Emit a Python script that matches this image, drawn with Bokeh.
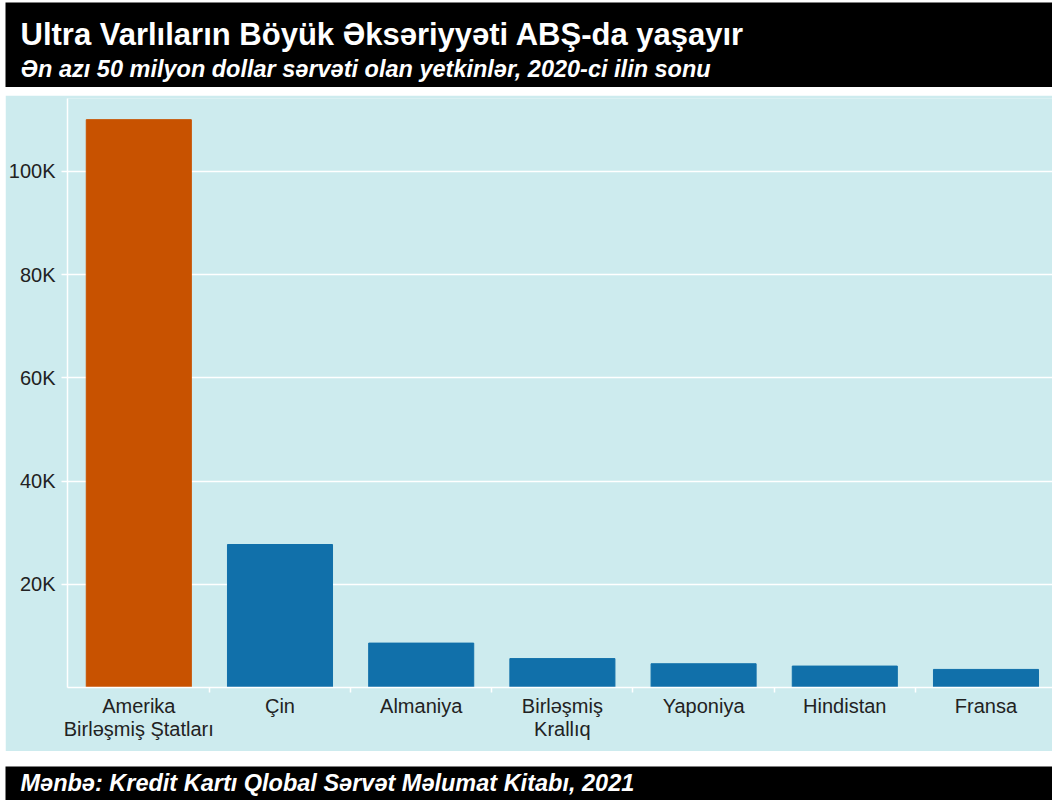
from bokeh.plotting import figure
from bokeh.models import (ColumnDataSource, Range1d, FixedTicker, Label)
from bokeh.layouts import column
from bokeh.embed import file_html
from bokeh.resources import INLINE

# ---- data ----
countries = ["Amerika\nBirləşmiş Ştatları", "Çin", "Almaniya", "Birləşmiş\nKrallıq",
             "Yaponiya", "Hindistan", "Fransa"]
adults = [110000, 27700, 8600, 5600, 4600, 4150, 3500]
bar_colors = ["#C85200", "#1170AA", "#1170AA", "#1170AA", "#1170AA", "#1170AA", "#1170AA"]
y_ticks = [20000, 40000, 60000, 80000, 100000]
y_tick_labels = ["20K", "40K", "60K", "80K", "100K"]

title_text = "Ultra Varlıların Böyük Əksəriyyəti ABŞ-da yaşayır"
subtitle_text = "Ən azı 50 milyon dollar sərvəti olan yetkinlər, 2020-ci ilin sonu"
source_text = "Mənbə: Kredit Kartı Qlobal Sərvət Məlumat Kitabı, 2021"

PANEL = "#cdebee"
FONT = "Liberation Sans"
W = 1047

# ---- header ----
head = figure(width=W, height=85, output_backend="svg", toolbar_location=None,
              x_range=Range1d(0, 1), y_range=Range1d(0, 1),
              x_axis_location=None, y_axis_location=None, frame_align=False,
              min_border=0, background_fill_color="black", border_fill_color="black",
              outline_line_color=None, margin=(2, 0, 0, 5))
head.grid.visible = False
head.add_layout(Label(x=15, y=53, x_units="screen", y_units="screen", text=title_text,
                      text_color="white", text_font=FONT, text_font_style="bold",
                      text_font_size="31px", text_baseline="alphabetic"))
head.add_layout(Label(x=15, y=19, x_units="screen", y_units="screen", text=subtitle_text,
                      text_color="white", text_font=FONT, text_font_style="bold italic",
                      text_font_size="23.5px", text_baseline="alphabetic"))

# ---- main chart ----
xs = list(range(len(countries)))
src = ColumnDataSource(dict(x=xs, top=adults, color=bar_colors))

p = figure(width=W, height=656, output_backend="svg", toolbar_location=None,
           x_range=Range1d(-0.505, 6.471), y_range=Range1d(0, 114100), frame_align=False,
           min_border_left=62, min_border_right=0, min_border_top=3, min_border_bottom=64,
           background_fill_color=PANEL, border_fill_color=PANEL, outline_line_color=None,
           margin=(8, 0, 15, 5))
p.vbar(x="x", top="top", bottom=0, width=0.744, color="color", source=src)

p.xgrid.visible = False
p.ygrid.ticker = FixedTicker(ticks=y_ticks)
p.ygrid.grid_line_color = "white"
p.ygrid.grid_line_width = 1.5

p.yaxis.ticker = FixedTicker(ticks=y_ticks)
p.yaxis.major_label_overrides = {t: l for t, l in zip(y_ticks, y_tick_labels)}
p.xaxis.ticker = FixedTicker(ticks=xs, minor_ticks=[i + 0.5 for i in xs[:-1]])
p.xaxis.major_label_overrides = {i: c for i, c in zip(xs, countries)}

for ax in (p.xaxis[0], p.yaxis[0]):
    ax.axis_line_color = "white"
    ax.axis_line_width = 1.5
    ax.major_tick_line_color = "white"
    ax.major_tick_line_width = 1.5
    ax.minor_tick_line_color = "white"
    ax.minor_tick_line_width = 1.5
    ax.major_label_text_color = "#222222"
    ax.major_label_text_font = FONT
    ax.major_label_text_font_size = "20px"

p.yaxis.major_tick_out = 6
p.yaxis.major_tick_in = 0
p.yaxis.minor_tick_out = 0
p.yaxis.minor_tick_in = 0
p.yaxis.major_label_standoff = 6
p.xaxis.major_tick_out = 0
p.xaxis.major_tick_in = 0
p.xaxis.minor_tick_out = 5
p.xaxis.minor_tick_in = 0
p.xaxis.major_label_standoff = 2
p.xaxis.major_label_text_line_height = 1.05

# ---- footer ----
foot = figure(width=W, height=34, output_backend="svg", toolbar_location=None,
              x_range=Range1d(0, 1), y_range=Range1d(0, 1),
              x_axis_location=None, y_axis_location=None, frame_align=False,
              min_border=0, background_fill_color="black", border_fill_color="black",
              outline_line_color=None, margin=(0, 0, 0, 5))
foot.grid.visible = False
foot.add_layout(Label(x=15, y=18, x_units="screen", y_units="screen", text=source_text,
                      text_color="white", text_font=FONT, text_font_style="bold italic",
                      text_font_size="23.5px", text_baseline="alphabetic"))

layout = column(head, p, foot, spacing=0)
open("out.html", "w").write(file_html(layout, INLINE))
